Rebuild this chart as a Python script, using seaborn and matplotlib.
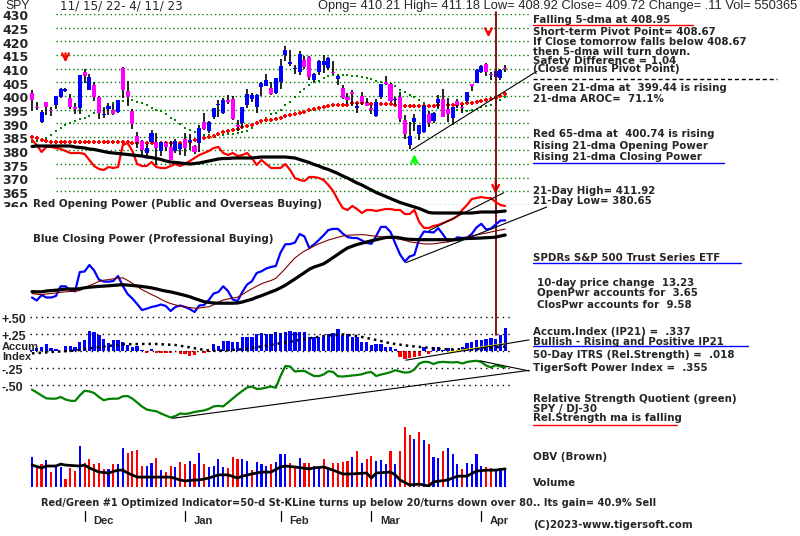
import matplotlib
matplotlib.use("Agg")
import matplotlib.pyplot as plt
import matplotlib.transforms as mtransforms
from matplotlib.lines import Line2D
from matplotlib.patches import Rectangle
import numpy as np
import pandas as pd
import seaborn as sns

# ---------------- data (SPY 11/15/22 - 4/11/23, one value per trading day) ----------------
opens = [401.00, 396.00, 390.46, 397.74, 394.64, 396.63, 399.55, 401.83, 399.09, 396.05,
         395.49, 408.77, 402.25, 403.95, 399.42, 392.94, 395.14, 394.94, 394.11, 410.22,
         401.61, 394.30, 385.18, 383.47, 379.23, 383.25, 383.05, 379.65, 382.79, 381.33,
         379.63, 380.64, 384.37, 383.18, 381.72, 382.61, 390.37, 387.25, 392.23, 396.67,
         393.62, 398.48, 399.01, 389.36, 390.10, 396.72, 398.88, 395.95, 403.13, 403.66,
         402.80, 401.13, 405.21, 414.86, 411.59, 409.79, 408.87, 413.13, 414.41, 405.86,
         408.72, 411.24, 410.35, 408.79, 406.06, 403.06, 399.52, 401.56, 395.42, 399.87,
         397.23, 395.41, 392.68, 399.71, 405.05, 404.42, 398.39, 399.74, 390.99, 381.81,
         390.50, 385.89, 386.82, 393.22, 390.80, 397.24, 398.73, 395.09, 391.84, 398.12,
         395.77, 398.04, 404.26, 404.66, 408.85, 411.62, 407.91, 406.77, 406.61, 410.21]
highs = [402.31, 397.92, 394.95, 397.81, 395.82, 400.07, 402.93, 402.91, 400.81, 397.30,
         407.68, 410.00, 407.86, 404.93, 399.99, 395.64, 397.36, 397.11, 398.54, 410.49,
         405.50, 395.25, 386.58, 383.82, 382.23, 387.41, 386.21, 383.06, 383.15, 383.39,
         384.35, 382.58, 386.43, 385.88, 381.84, 389.25, 393.70, 390.65, 395.60, 398.49,
         399.10, 400.23, 400.12, 391.08, 396.04, 402.65, 401.15, 400.70, 404.92, 408.16,
         405.13, 406.53, 413.67, 418.31, 416.97, 411.29, 416.49, 414.53, 414.57, 408.44,
         412.97, 415.05, 414.06, 412.91, 407.51, 404.16, 401.13, 402.20, 397.25, 401.29,
         399.28, 396.69, 398.69, 404.45, 407.45, 404.67, 399.71, 401.48, 393.16, 390.39,
         393.45, 389.49, 396.47, 394.40, 394.17, 400.28, 402.49, 399.29, 395.84, 398.92,
         396.49, 401.30, 404.36, 409.70, 411.34, 411.92, 408.70, 409.48, 409.69, 411.18]
lows = [394.49, 394.90, 390.14, 393.04, 392.66, 395.15, 399.31, 401.54, 395.11, 393.30,
        393.48, 404.75, 402.14, 398.17, 391.64, 391.97, 393.01, 392.92, 393.60, 399.07,
        396.31, 387.89, 381.04, 378.28, 377.85, 382.66, 374.77, 378.03, 379.65, 376.42,
        379.08, 378.43, 377.83, 380.00, 378.76, 379.41, 387.67, 386.27, 391.38, 392.42,
        393.34, 397.06, 391.28, 387.26, 388.38, 395.72, 397.64, 393.56, 400.03, 403.44,
        400.28, 400.77, 402.35, 412.88, 411.09, 408.10, 407.57, 409.93, 405.81, 405.01,
        407.66, 408.51, 409.47, 408.14, 404.05, 398.82, 397.02, 396.25, 393.64, 396.75,
        396.15, 393.38, 392.33, 399.03, 404.01, 397.63, 396.59, 390.53, 384.32, 380.65,
        387.05, 383.71, 386.29, 388.55, 390.07, 395.61, 392.07, 390.35, 389.40, 395.56,
        393.69, 397.33, 401.76, 404.55, 408.44, 407.24, 405.88, 405.68, 405.97, 408.92]
closes = [398.49, 395.45, 394.24, 396.03, 394.59, 399.90, 402.42, 402.33, 395.91, 395.23,
          407.68, 407.38, 406.91, 399.59, 393.83, 393.16, 396.24, 393.28, 398.49, 401.97,
          399.40, 389.63, 383.27, 380.02, 380.92, 386.23, 380.72, 382.91, 381.40, 376.66,
          383.44, 382.43, 380.82, 383.76, 379.38, 388.08, 387.86, 390.58, 395.52, 396.96,
          398.50, 397.77, 391.49, 388.64, 395.88, 400.63, 400.20, 400.35, 404.75, 405.68,
          400.59, 406.48, 410.80, 416.78, 412.35, 409.83, 415.19, 410.65, 407.09, 408.04,
          412.83, 412.64, 413.98, 408.28, 407.26, 399.09, 398.54, 400.66, 396.38, 397.73,
          396.26, 394.74, 397.81, 404.19, 404.47, 398.27, 398.92, 391.56, 385.91, 385.36,
          391.73, 389.28, 396.11, 389.99, 393.74, 398.91, 392.11, 393.17, 395.75, 396.49,
          395.60, 401.35, 403.70, 409.39, 410.95, 408.67, 407.60, 409.19, 409.61, 409.72]
prev_close_before_start = 395.12

ma21 = [383.0, 383.5, 384.0, 384.4, 385.6, 387.0, 388.2, 389.2, 390.0, 390.9,
        391.5, 391.9, 392.8, 393.8, 394.8, 395.5, 396.3, 397.3, 397.8, 398.0,
        398.2, 398.3, 397.8, 397.2, 396.7, 395.5, 395.0, 394.5, 393.5, 391.8,
        391.0, 389.6, 388.3, 387.5, 386.9, 386.1, 385.7, 385.5, 385.5, 385.5,
        385.7, 385.9, 385.9, 386.3, 386.7, 387.3, 388.4, 389.6, 390.6, 392.0,
        393.2, 393.8, 394.8, 396.6, 397.8, 399.6, 401.3, 402.6, 403.8, 404.9,
        405.6, 406.4, 407.1, 407.5, 407.7, 407.7, 407.7, 407.4, 407.2, 407.0,
        406.5, 406.0, 405.6, 405.2, 404.8, 404.2, 403.7, 402.2, 401.3, 400.4,
        399.6, 398.4, 397.5, 396.7, 396.1, 395.7, 395.4, 395.4, 395.0, 394.8,
        394.8, 394.6, 394.8, 395.3, 395.8, 396.1, 396.6, 397.6, 398.4, 399.4]
ma65 = [385.0, 384.7, 384.0, 383.4, 383.2, 383.2, 383.2, 383.2, 383.2, 383.2,
        383.2, 383.2, 383.2, 383.2, 383.2, 383.2, 383.2, 383.2, 383.2, 383.2,
        383.2, 382.9, 382.8, 382.8, 382.8, 382.8, 382.8, 382.8, 382.8, 382.8,
        382.8, 382.8, 382.8, 383.2, 383.8, 384.2, 384.7, 385.0, 385.3, 385.9,
        386.7, 387.2, 387.5, 388.0, 388.6, 389.1, 389.5, 390.2, 390.8, 391.2,
        391.3, 391.5, 392.0, 392.5, 392.9, 393.3, 393.7, 394.2, 394.7, 395.1,
        395.6, 396.0, 396.4, 396.7, 396.8, 396.8, 396.8, 397.2, 397.2, 397.2,
        397.2, 397.0, 397.0, 397.0, 397.0, 397.0, 396.8, 396.5, 396.1, 396.1,
        396.1, 396.1, 396.1, 396.1, 396.3, 396.6, 396.6, 396.6, 396.6, 396.6,
        397.0, 397.3, 397.5, 397.7, 398.0, 398.4, 398.8, 399.3, 399.9, 400.7]

# Opening / Closing Power (relative levels)
open_power = [180, 175, 168, 173, 173, 172, 171, 169, 167, 167,
              167, 166, 160, 154, 151, 150, 153, 152, 153, 175,
              177, 169, 156, 154, 154, 158, 153, 152, 152, 154,
              156, 154, 156, 159, 162, 165, 167, 169, 172, 173,
              167, 165, 167, 164, 165, 167, 162, 155, 160, 156,
              152, 152, 152, 156, 150, 142, 140, 139, 143, 143,
              142, 140, 135, 129, 120, 112, 110, 114, 111, 107,
              110, 110, 109, 110, 111, 111, 110, 110, 106, 106,
              110, 98, 92, 92, 94, 95, 97, 99, 101, 104,
              110, 115, 121, 122, 123, 122, 122, 118, 115, 114]
open_power_ma = [173.5, 174, 174, 174, 174, 174, 174, 174, 174, 173,
                 172.5, 172, 171, 170.5, 169.5, 168.5, 167.5, 167, 166.5, 166,
                 165.5, 165, 164.5, 164, 163, 162.5, 161.5, 160.5, 159, 158,
                 157.5, 157, 156.5, 156, 156.5, 157, 158, 159, 160, 161,
                 161.5, 161.5, 162, 162, 162, 162, 162, 162.5, 163, 163,
                 163, 163, 163, 163, 162.5, 162, 160.5, 159, 157.5, 155.5,
                 154, 152, 150.5, 148.5, 146.5, 144, 142, 139.5, 137, 135,
                 132.5, 130, 127.5, 125.5, 123.5, 121.5, 119.5, 117.5, 116, 114.5,
                 113, 111.5, 109.5, 107.5, 107, 107, 107, 107, 107, 107,
                 107, 107, 107, 107.5, 108, 108, 108, 108, 108.5, 109]
close_power = [22.5, 19.5, 25, 22.5, 22.5, 24, 33.7, 33.7, 30, 28.6,
               48, 48.5, 55, 49.5, 40.3, 38.5, 38.3, 39, 44, 34,
               26, 21.5, 16, 10, 11.3, 13, 14, 15.5, 14, 9,
               13, 14.5, 13, 11, 8, 14.5, 15, 20, 26.5, 28,
               33.7, 29, 20.5, 19, 28, 35.5, 38.7, 47, 48.7, 51.5,
               53, 54, 67.5, 75.7, 75.9, 77.4, 86, 83.5, 72, 75.5,
               80, 84.7, 90, 91.1, 91.1, 86.5, 83, 82, 82, 79.6,
               77.2, 76.2, 84, 93, 93.2, 88, 76.5, 65.5, 58.5, 63.5,
               65.2, 81, 88.5, 88, 87.5, 91.8, 85.4, 78.7, 79.5, 82.7,
               82, 82.3, 86, 92.6, 96.2, 90.5, 91.4, 95.5, 99.4, 99.6]
close_power_ma21 = [26.5, 25.7, 25.4, 26, 26.5, 27, 27.7, 28.2, 28.6, 28.6,
                    29.5, 32.5, 34.4, 36.4, 38.5, 39.8, 40.4, 41.2, 42, 42.2,
                    39.6, 36.7, 33.6, 30.3, 28, 25.5, 23.3, 20.7, 18.3, 16.4,
                    15.1, 14, 13.1, 12.5, 11.8, 12, 12.7, 13.2, 15.2, 17.8,
                    20, 21, 21.9, 22.8, 25.5, 28.5, 31.2, 33.8, 36.2, 38,
                    39.5, 41.6, 46.5, 51.3, 57, 62, 65.7, 69, 71.3, 74,
                    76.3, 78, 80, 81.3, 82.7, 84, 84.7, 85, 85.2, 85.4,
                    85, 84.3, 83.7, 83.2, 82.6, 82, 81.5, 80.7, 79.6, 78.2,
                    77.5, 76.8, 76.1, 76, 76.2, 76.8, 77.5, 78.2, 79.3, 80.4,
                    81.7, 82.9, 84.1, 85.1, 86, 86.9, 88, 89, 90, 91]
close_power_ma65 = [28.4, 28.1, 28.2, 29, 29.4, 29.8, 30.3, 30.9, 31, 31,
                    31.3, 32.2, 32.8, 33.2, 33.6, 33.9, 34.2, 34.6, 35, 35.3,
                    34.9, 34.5, 34.1, 33.5, 32.9, 32.1, 31.1, 29.9, 28.9, 28.1,
                    27, 25.8, 24.6, 23.3, 21.5, 19.9, 18.3, 17.6, 17, 16.8,
                    16.8, 16.8, 16.8, 17, 18, 19.4, 20.7, 22.7, 24.3, 26.2,
                    28.1, 29.9, 32.2, 34.8, 37.9, 41, 44.2, 47.4, 50.7, 53,
                    54.5, 56.2, 59.2, 62.5, 65.7, 69, 72, 73.8, 75.5, 76.8,
                    78, 79.2, 80.3, 81.4, 82.5, 82.7, 82.7, 82.1, 81.1, 80.7,
                    80.5, 80.3, 80.3, 80.3, 80.3, 80.3, 80.3, 80.3, 80.3, 80.3,
                    81.3, 81.5, 81.6, 81.8, 82, 82.3, 82.5, 82.8, 84, 85]

# Accumulation Index (IP21)
accum_ip21 = [0.015, 0.039, 0.054, 0.103, 0.039, 0.025, 0.005, 0.078, 0.078, 0.054,
              0.127, 0.162, 0.289, 0.275, 0.235, 0.172, 0.123, 0.162, 0.162, 0.127,
              0.088, 0.064, 0.074, 0.015, -0.025, 0.025, -0.025, -0.025, -0.025, -0.025,
              0.005, -0.044, -0.049, -0.074, -0.059, 0.005, -0.025, -0.020, 0.098, 0.074,
              0.142, 0.142, 0.127, 0.127, 0.201, 0.211, 0.201, 0.245, 0.260, 0.250,
              0.250, 0.275, 0.260, 0.275, 0.289, 0.275, 0.275, 0.275, 0.211, 0.211,
              0.211, 0.211, 0.250, 0.260, 0.324, 0.235, 0.250, 0.211, 0.201, 0.127,
              0.127, 0.088, 0.098, 0.103, 0.054, 0.054, 0.025, -0.083, -0.118, -0.098,
              -0.083, -0.069, 0.054, -0.044, 0.064, 0.054, 0.015, 0.039, 0.029, 0.015,
              0.054, 0.113, 0.127, 0.162, 0.162, 0.176, 0.186, 0.176, 0.235, 0.337]
accum_ma_days = [0, 2, 5, 9, 12, 16, 19, 23, 26, 30, 33, 36, 38, 40, 44, 47, 51, 54, 58, 61,
                 65, 68, 72, 75, 79, 82, 86, 89, 93, 96, 99]
accum_ma = [-0.035, -0.025, -0.010, 0.005, 0.039, 0.074, 0.098, 0.103, 0.103, 0.088,
            0.054, 0.015, 0.005, 0.005, 0.025, 0.054, 0.103, 0.137, 0.186, 0.221,
            0.245, 0.221, 0.162, 0.113, 0.074, 0.054, 0.025, 0.025, 0.029, 0.049, 0.064]
yellow_days = [87, 99]
yellow_vals = [-0.02, 0.11]

# Relative strength quotient SPY / DJ-30 (green)
rs_quotient = [-0.568, -0.610, -0.654, -0.696, -0.701, -0.701, -0.676, -0.713, -0.732, -0.735,
               -0.654, -0.585, -0.594, -0.618, -0.676, -0.724, -0.706, -0.701, -0.701, -0.666,
               -0.662, -0.700, -0.757, -0.816, -0.860, -0.875, -0.887, -0.919, -0.949, -0.978,
               -0.956, -0.919, -0.926, -0.916, -0.897, -0.885, -0.874, -0.851, -0.815, -0.807,
               -0.815, -0.757, -0.699, -0.640, -0.588, -0.537, -0.522, -0.557, -0.554, -0.538,
               -0.522, -0.541, -0.368, -0.221, -0.228, -0.301, -0.294, -0.294, -0.331, -0.368,
               -0.369, -0.346, -0.297, -0.309, -0.372, -0.375, -0.369, -0.360, -0.353, -0.343,
               -0.319, -0.309, -0.368, -0.346, -0.331, -0.312, -0.282, -0.301, -0.318, -0.312,
               -0.272, -0.184, -0.159, -0.162, -0.191, -0.166, -0.160, -0.166, -0.168, -0.162,
               -0.184, -0.162, -0.150, -0.144, -0.162, -0.213, -0.241, -0.209, -0.228, -0.244]

# Volume (millions of shares) and OBV
volume_m = [93, 61, 70, 85, 47, 61, 63, 24, 59, 50,
            127, 75, 86, 72, 75, 56, 56, 70, 72, 123,
            107, 111, 117, 66, 66, 75, 91, 52, 47, 66,
            63, 79, 72, 82, 72, 107, 72, 61, 66, 88,
            63, 59, 95, 86, 88, 82, 53, 77, 70, 66,
            70, 79, 102, 102, 75, 59, 91, 75, 75, 64,
            61, 88, 56, 75, 75, 79, 82, 95, 111, 75,
            86, 98, 82, 85, 72, 111, 70, 114, 189, 163,
            150, 171, 147, 136, 95, 91, 111, 123, 104, 70,
            56, 75, 70, 104, 66, 63, 59, 56, 59, 52]
obv_days = [0, 2, 3, 5, 6, 7, 10, 11, 12, 14, 16, 18, 19, 20, 22, 24, 26, 29, 31, 32,
            34, 35, 37, 39, 41, 43, 44, 46, 48, 50, 52, 53, 55, 58, 59, 61, 63, 65, 67, 70,
            71, 72, 75, 76, 77, 79, 81, 83, 84, 87, 89, 91, 93, 95, 97, 99]
obv = [68, 59, 65, 65, 71, 68, 65, 68, 59, 46, 43, 52, 52, 43, 30, 30, 30, 30, 21, 18,
       21, 21, 27, 37, 37, 27, 33, 40, 46, 46, 62, 65, 62, 56, 59, 62, 52, 40, 40, 43,
       27, 43, 46, 37, 21, 5, 8, 2, 15, 21, 33, 33, 49, 52, 52, 56]

price_levels = [430, 425, 420, 415, 410, 405, 400, 395, 390, 385, 380, 375, 370, 365, 360]
accum_levels = [0.50, 0.25, 0.0, -0.25, -0.50]
accum_labels = {0.50: "+.50", 0.25: "+.25", -0.25: "-.25", -0.50: "-.50"}
month_labels = ["Dec", "Jan", "Feb", "Mar", "Apr"]
month_first_day = [11, 32, 52, 71, 94]
signal_day = 97

# ---------------- layout ----------------
W, H = 800, 536
PX_DAY = 4.78
X0PX = 32
TXT = 'DejaVu Sans'

sns.set_style("white")
plt.rcParams['font.family'] = ['Liberation Sans', 'DejaVu Sans']

fig = plt.figure(figsize=(8, 5.36), dpi=100)
fig.patch.set_facecolor("white")


def fx(x):
    return x / W


def fy(y):
    return 1 - y / H


def day_of(x):
    return (x - X0PX) / PX_DAY


XL = (day_of(0), day_of(W))


def panel(top, bottom, ylim):
    ax = fig.add_axes([0, fy(bottom), 1, (bottom - top) / H])
    ax.set_xlim(*XL)
    ax.set_ylim(*ylim)
    ax.axis('off')
    ax.patch.set_alpha(0)
    return ax


days = np.arange(len(closes))
o = np.array(opens); h = np.array(highs); l = np.array(lows); c = np.array(closes)

# ---------------- price panel ----------------
ax_p = panel(14, 205, (360, 430))
ax_p.hlines(price_levels, day_of(56), day_of(530), colors='#008000',
            linestyles=(0, (1, 2)), lw=1, zorder=1)
dfp = pd.DataFrame({'day': days, 'ma21': ma21, 'ma65': ma65})
sns.scatterplot(data=dfp, x='day', y='ma21', marker='s', s=3.2, color='#008000',
                linewidth=0, ax=ax_p, legend=False, zorder=2)
sns.scatterplot(data=dfp, x='day', y='ma65', marker='P', s=10, color='red',
                linewidth=0, ax=ax_p, legend=False, zorder=2)
ax_p.vlines(days, l, h, color='black', lw=1.2, zorder=3)
body_bot = np.minimum(o, c)
body_h = np.maximum(np.abs(c - o), 0.35)
body_col = np.where(c >= o, 'blue', 'magenta')
ax_p.bar(days, body_h, bottom=body_bot, width=0.85, color=body_col, lw=0, zorder=4)
ax_p.set_xlim(*XL); ax_p.set_ylim(360, 430)

# price trendline from the March low to the pivot text
ax_p.plot([79.4, 105.6], [380.2, 409.0], color='black', lw=0.8, clip_on=False, zorder=5)

# arrows
arrow_kw = dict(arrowstyle='->', lw=1.6, mutation_scale=12)
ax_p.annotate('', xy=(7, 411.2), xytext=(7, 416.6), arrowprops=dict(color='red', **arrow_kw))
ax_p.annotate('', xy=(95.5, 420.4), xytext=(95.5, 424.6), arrowprops=dict(color='red', **arrow_kw))
ax_p.annotate('', xy=(80, 379.6), xytext=(80, 374.2), arrowprops=dict(color='#00ff00', **arrow_kw))
ax_p.annotate('', xy=(97, 363.0), xytext=(97, 369.8), arrowprops=dict(color='red', **arrow_kw))

# signal vertical line
vtrans = mtransforms.blended_transform_factory(ax_p.transData, fig.transFigure)
ax_p.plot([signal_day, signal_day], [fy(12), fy(335)], transform=vtrans,
          color='#800000', lw=1.3, clip_on=False, zorder=6)

# price labels
ptrans = mtransforms.offset_copy(
    mtransforms.blended_transform_factory(fig.transFigure, ax_p.transData),
    fig=fig, x=0, y=-3, units='dots')
for p in price_levels:
    ax_p.text(fx(2), p, str(p), transform=ptrans, fontsize=9, fontweight='bold',
              family='DejaVu Sans', va='center', ha='left', clip_on=False)

# ---------------- power panel ----------------
ax_w = panel(130, 320, (0, 190))
sns.lineplot(x=days, y=open_power, color='red', lw=1.6, ax=ax_w)
sns.lineplot(x=days, y=close_power, color='blue', lw=1.6, ax=ax_w)
sns.lineplot(x=days, y=close_power_ma21, color='#800000', lw=0.8, ax=ax_w)
sns.lineplot(x=days, y=open_power_ma, color='black', lw=2.3, ax=ax_w)
sns.lineplot(x=days, y=close_power_ma65, color='black', lw=2.3, ax=ax_w)
ax_w.plot([83.1, 98.7], [89.4, 127.3], color='black', lw=0.8)
ax_w.plot([78.2, 107.7], [57.3, 113.0], color='black', lw=0.8, clip_on=False)
ax_w.set_xlim(*XL); ax_w.set_ylim(0, 190); ax_w.axis('off')

# ---------------- accumulation / relative strength panel ----------------
ax_a = panel(310, 420, (-1.0147, 0.6029))
ax_a.hlines(accum_levels, day_of(30), day_of(512), colors='black',
            linestyles=(0, (1, 3)), lw=1)
acc = np.array(accum_ip21)
ax_a.bar(days, acc, width=0.7, color=np.where(acc >= 0, 'blue', 'red'), lw=0)
sns.lineplot(x=accum_ma_days, y=accum_ma, color='black', lw=1.8,
             linestyle=(0, (1, 1.6)), ax=ax_a)
sns.lineplot(x=yellow_days, y=yellow_vals, color='yellow', lw=1, ax=ax_a)
sns.lineplot(x=days, y=rs_quotient, color='#008000', lw=1.6, ax=ax_a)
ax_a.plot([78.2, 104.0], [-0.135, 0.163], color='black', lw=0.8, clip_on=False)
ax_a.plot([29.4, 104.0], [-0.99, -0.284], color='black', lw=0.8, clip_on=False)
ax_a.plot([93.7, 104.0], [-0.144, -0.294], color='black', lw=0.8, clip_on=False)
ax_a.set_xlim(*XL); ax_a.set_ylim(-1.0147, 0.6029); ax_a.axis('off')
atrans = mtransforms.offset_copy(
    mtransforms.blended_transform_factory(fig.transFigure, ax_a.transData),
    fig=fig, x=0, y=-3, units='dots')
for v, s in accum_labels.items():
    ax_a.text(fx(2), v, s, transform=atrans, fontsize=9, fontweight='bold',
              va='center', ha='left', clip_on=False)
fig.text(fx(2), fy(347.5), "Accum", fontsize=8, fontweight='bold', va='center')
fig.text(fx(2), fy(357), "Index", fontsize=8, fontweight='bold', va='center')

# ---------------- volume panel ----------------
ax_v = panel(420, 486.6, (0, 210.5))
prev = np.concatenate([[prev_close_before_start], c[:-1]])
vol_col = np.where(c >= prev, 'blue', 'red')
ax_v.bar(days, volume_m, width=0.45, color=vol_col, lw=0)
sns.lineplot(x=obv_days, y=obv, color='black', lw=2, ax=ax_v)
ax_v.set_xlim(*XL); ax_v.set_ylim(0, 210.5); ax_v.axis('off')

# month ticks
mtrans = mtransforms.blended_transform_factory(ax_v.transData, fig.transFigure)
for m, d in zip(month_labels, month_first_day):
    ax_v.plot([d, d], [fy(511), fy(521)], transform=mtrans, color='black', lw=0.9, clip_on=False)
    ax_v.text(d + 1.85, fy(520.5), m, transform=mtrans, fontsize=8, fontweight='bold',
              va='center', ha='left', clip_on=False)

# ---------------- texts ----------------
fig.text(fx(5), fy(6), "SPY", fontsize=8.7, va='center')
fig.text(fx(60), fy(6), "11/ 15/ 22- 4/ 11/ 23", fontsize=8.6, family=TXT, va='center')
fig.text(fx(318), fy(6), "Opng= 410.21 High= 411.18 Low= 408.92 Close= 409.72 Change= .11 Vol= 550365",
         fontsize=9.3, va='center')

# white strip hiding the lower part of the "360" label, as in the reference
fig.add_artist(Rectangle((0, fy(213)), fx(33), (213 - 206.5) / H, transform=fig.transFigure,
                         facecolor='white', edgecolor='none', zorder=5))
fig.text(fx(33), fy(203.5), "Red Opening Power (Public and Overseas Buying)", fontsize=7.4,
         family=TXT, fontweight='bold', va='center', bbox=dict(fc='white', ec='none', pad=0.8),
         zorder=6)
fig.text(fx(33), fy(239), "Blue Closing Power (Professional Buying)", fontsize=7.4,
         family=TXT, fontweight='bold', va='center')
fig.text(fx(40.6), fy(502.8),
         "Red/Green #1 Optimized Indicator=50-d St-KLine turns up below 20/turns down over 80.. Its gain= 40.9% Sell",
         fontsize=7.15, family=TXT, fontweight='bold', va='center')

right_texts = [
    (533, 20, "Falling 5-dma at 408.95"),
    (533, 31.7, "Short-term Pivot Point= 408.67"),
    (533, 42.3, "If Close tomorrow falls below 408.67"),
    (533, 51.7, "then 5-dma will turn down."),
    (533, 60.5, "Safety Difference = 1.04"),
    (533, 69.5, "(Close minus Pivot Point)"),
    (533, 88.3, "Green 21-dma at  399.44 is rising"),
    (533, 99, "21-dma AROC=  71.1%"),
    (533, 134, "Red 65-dma at  400.74 is rising"),
    (533, 146, "Rising 21-dma Opening Power"),
    (533, 156.7, "Rising 21-dma Closing Power"),
    (533, 191.2, "21-Day High= 411.92"),
    (533, 200.5, "21-Day Low= 380.65"),
    (533, 258.3, "SPDRs S&P 500 Trust Series ETF"),
    (537, 282.7, "10-day price change  13.23"),
    (537, 293.3, "OpenPwr accounts for  3.65"),
    (537, 305, "ClosPwr accounts for  9.58"),
    (533, 332, "Accum.Index (IP21) =  .337"),
    (533, 341.7, "Bullish - Rising and Positive IP21"),
    (533, 355, "50-Day ITRS (Rel.Strength) =  .018"),
    (533, 368.3, "TigerSoft Power Index =  .355"),
    (533, 399.3, "Relative Strength Quotient (green)"),
    (533, 408.5, "SPY / DJ-30"),
    (533, 417.7, "Rel.Strength ma is falling"),
    (533, 456.7, "OBV (Brown)"),
    (533, 482.7, "Volume"),
    (533, 525, "(C)2023-www.tigersoft.com"),
]
for x, y, s in right_texts:
    fig.text(fx(x), fy(y), s, fontsize=7.4, family=TXT, fontweight='bold', va='center', ha='left')

underlines = [(533, 693, 24.5, 'red', '-'), (533, 724, 162.7, 'blue', '-'),
              (533, 741, 263.3, 'blue', '-'), (533, 748, 346, 'blue', '-'),
              (533, 677, 425, 'red', '-'), (533, 777, 79, 'black', (0, (3, 2)))]
for x1, x2, y, col, ls in underlines:
    fig.add_artist(Line2D([fx(x1), fx(x2)], [fy(y), fy(y)], color=col, lw=1, linestyle=ls))

fig.savefig("out.png", dpi=100, facecolor="white")
